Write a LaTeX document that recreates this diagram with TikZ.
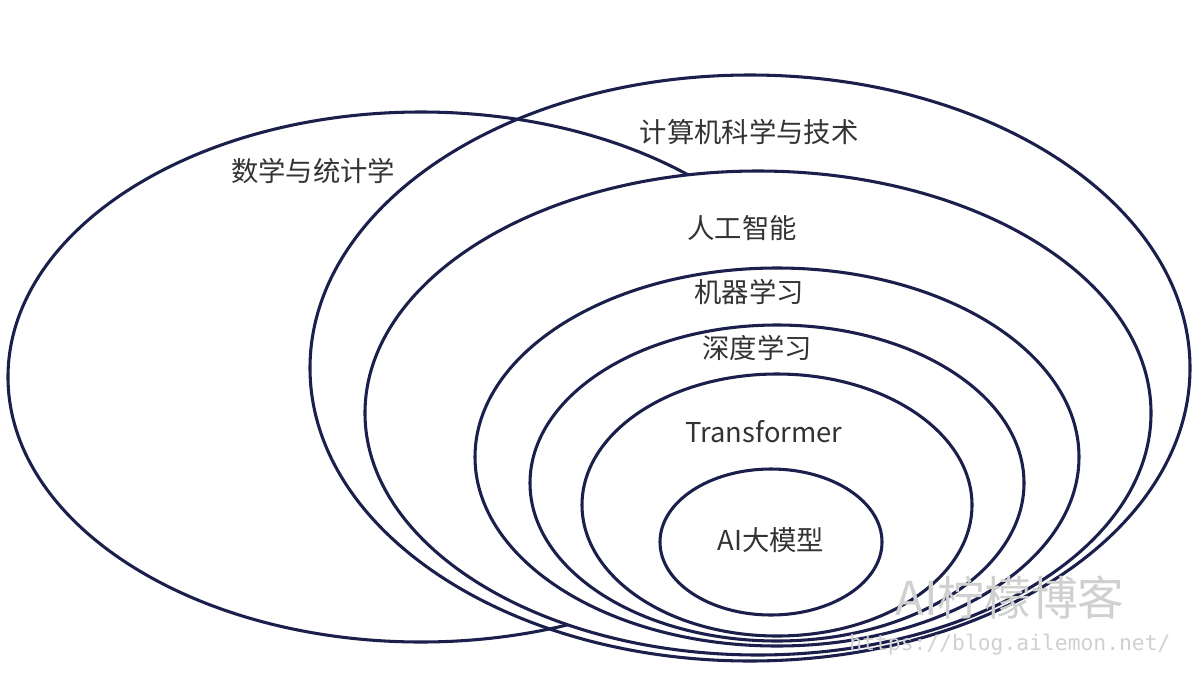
\documentclass[tikz,border=0pt]{standalone}
\usepackage{fontspec}
\setmainfont{Noto Sans CJK SC}
\newfontfamily\monof{DejaVu Sans Mono}
\definecolor{navy}{HTML}{1B1F4B}
\definecolor{wm}{HTML}{D0D0D0}
\begin{document}
\begin{tikzpicture}[x=0.75pt,y=-0.75pt,
  ring/.style={draw=navy,line width=2.3pt},
  lab/.style={font=\fontsize{20.5}{24}\selectfont,text=black!80}]
\useasboundingbox (0,0) rectangle (1200,693);
\draw[ring,fill=white] (750,368) ellipse [x radius=440,y radius=293];
\draw[ring] (421,377) ellipse [x radius=413,y radius=265];
\draw[ring,fill=white] (758,413) ellipse [x radius=393,y radius=242];
\draw[ring] (777,457) ellipse [x radius=302,y radius=189];
\draw[ring] (777,483) ellipse [x radius=247,y radius=158];
\draw[ring] (777,505) ellipse [x radius=195,y radius=131];
\draw[ring] (771,542) ellipse [x radius=111,y radius=73];
\node[lab] (math) at (313,171) {数学与统计学};
\node[lab] (cs) at (749,132) {计算机科学与技术};
\node[lab] (ai) at (742,228) {人工智能};
\node[lab] (ml) at (749,292) {机器学习};
\node[lab] (dl) at (757,348) {深度学习};
\node[lab] (tf) at (764,432) {Transformer};
\node[lab] (llm) at (771,540) {AI大模型};
\node[font=\fontsize{35}{40}\selectfont,text=wm] (wm1) at (1010,598) {AI柠檬博客};
\node[font=\monof\fontsize{16}{20}\selectfont,text=wm] (wm2) at (1010,645) {https://blog.ailemon.net/};
\end{tikzpicture}
\end{document}
